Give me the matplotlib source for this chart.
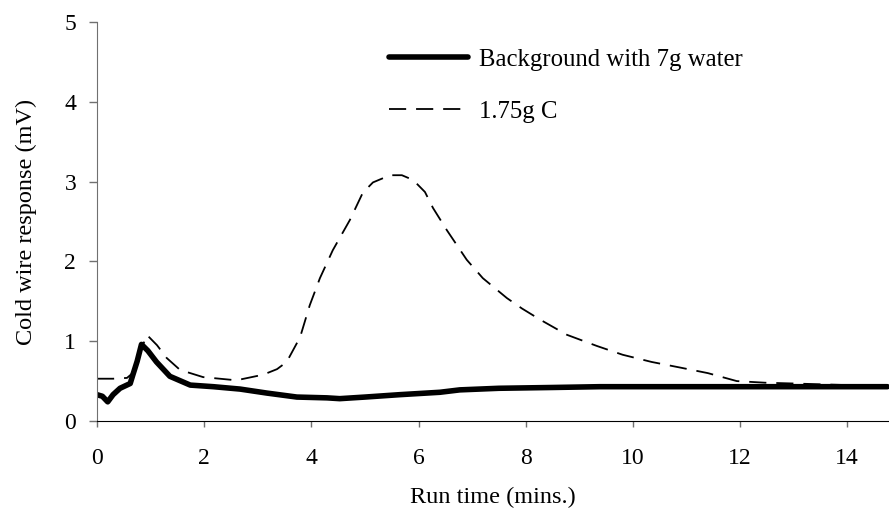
import matplotlib
matplotlib.use("Agg")
import matplotlib.pyplot as plt

# === DATA ===
bg_time = [0.0, 0.1, 0.2, 0.3, 0.43, 0.62, 0.67, 0.75, 0.83, 0.95, 1.11, 1.36, 1.74,
           2.17, 2.67, 3.17, 3.73, 4.29, 4.53, 5.0, 5.65, 6.4, 6.77, 7.5, 8.5,
           9.38, 10.5, 12.0, 13.5, 14.75]
bg_resp = [0.33, 0.31, 0.24, 0.33, 0.41, 0.47, 0.58, 0.75, 0.96, 0.88, 0.74, 0.56, 0.45,
           0.43, 0.40, 0.35, 0.30, 0.29, 0.28, 0.30, 0.33, 0.36, 0.39, 0.41, 0.42,
           0.43, 0.43, 0.43, 0.43, 0.43]

c_time = [0.0, 0.3, 0.56, 0.7, 0.8, 0.93, 1.12, 1.3, 1.55, 1.98, 2.6, 3.1, 3.36, 3.54,
          3.79, 3.97, 4.16, 4.4, 4.72, 4.96, 5.15, 5.47, 5.69, 5.9, 6.12, 6.27,
          6.53, 6.9, 7.2, 7.65, 7.93, 8.27, 8.77, 9.33, 9.81, 10.35, 10.88, 11.4,
          11.94, 12.46, 13.0, 14.0, 14.75]
c_resp = [0.53, 0.53, 0.54, 0.62, 0.85, 1.08, 0.95, 0.79, 0.64, 0.55, 0.51, 0.58, 0.65, 0.74,
          1.05, 1.45, 1.79, 2.14, 2.52, 2.86, 2.99, 3.08, 3.08, 3.02, 2.87, 2.67,
          2.39, 2.02, 1.79, 1.54, 1.41, 1.27, 1.08, 0.94, 0.83, 0.74, 0.67, 0.60,
          0.50, 0.48, 0.47, 0.45, 0.44]

x_ticks = [0, 2, 4, 6, 8, 10, 12, 14]
y_ticks = [0, 1, 2, 3, 4, 5]

plt.rcParams['font.family'] = ['Liberation Serif', 'DejaVu Serif']

# === PLOT ===
fig = plt.figure(figsize=(8.89, 5.11), dpi=100)
ax = fig.add_axes([97 / 889, 90 / 511, 792 / 889, 399 / 511])

ax.plot(bg_time, bg_resp, color='black', lw=4, solid_capstyle='round',
        solid_joinstyle='round', label='Background with 7g water')
ax.plot(c_time, c_resp, color='black', lw=1.3, dashes=(9.5, 5.5),
        label='1.75g C')

ax.set_xlim(0, 14.78)
ax.set_ylim(0, 5)
ax.set_xticks(x_ticks)
ax.set_yticks(y_ticks)

for side in ['top', 'right']:
    ax.spines[side].set_visible(False)
ax.spines['left'].set_color('#707070')
ax.spines['bottom'].set_color('black')
ax.tick_params(axis='x', direction='out', length=4.5, width=1, color='#707070',
               labelsize=17, pad=15)
ax.tick_params(axis='y', direction='out', length=6, width=1, color='#707070',
               labelsize=17, pad=9)

ax.set_xlabel('Run time (mins.)', fontsize=17.5, labelpad=13)
ax.set_ylabel('Cold wire response (mV)', fontsize=17.5, labelpad=20)

leg = ax.legend(loc='upper left', bbox_to_anchor=(0.34, 0.99), frameon=False,
                fontsize=17.8, handlelength=3.2, handletextpad=0.45, labelspacing=1.2)

fig.savefig('out.png', dpi=100)
